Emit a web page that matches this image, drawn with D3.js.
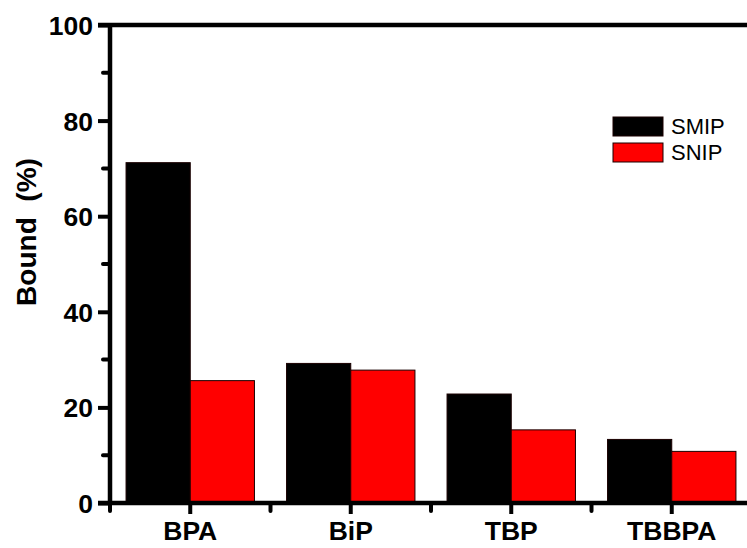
<!DOCTYPE html>
<html>
<head>
<meta charset="utf-8">
<script src="https://cdn.jsdelivr.net/npm/d3@7"></script>
<style>
  html, body { margin: 0; padding: 0; background: #fff; }
  svg { display: block; }
</style>
</head>
<body>
<svg id="chart" width="747" height="548"></svg>
<script>
// Binding percentages of each compound on the two polymer types
const categories = ["BPA", "BiP", "TBP", "TBBPA"];
const seriesNames = ["SMIP", "SNIP"];
const smipValues = [71.2, 29.2, 22.8, 13.3];
const snipValues = [25.6, 27.8, 15.3, 10.8];
const yTicks = [0, 20, 40, 60, 80, 100];
const yMinorTicks = [10, 30, 50, 70, 90];
const seriesColors = ["#000000", "#ff0000"];

(function draw() {
  const svg = d3.select("#chart");
  const font = "Arial, 'Liberation Sans', sans-serif";

  const plotLeft = 110, plotRight = 752, plotTop = 25, plotBottom = 503;

  const x = d3.scaleBand().domain(categories).range([plotLeft, plotRight]).paddingInner(0).paddingOuter(0);
  const xInner = d3.scaleBand().domain(seriesNames).range([0, x.bandwidth()]).paddingInner(0).paddingOuter(0.25);
  const y = d3.scaleLinear().domain([0, 100]).range([plotBottom, plotTop]);

  const rows = categories.map((c, i) => ({ cat: c, vals: [smipValues[i], snipValues[i]] }));

  // Bars
  const groups = svg.append("g").selectAll("g").data(rows).join("g")
    .attr("transform", d => `translate(${x(d.cat)},0)`);
  groups.selectAll("rect").data(d => d.vals.map((v, j) => ({ v, s: seriesNames[j], j })))
    .join("rect")
    .attr("x", d => xInner(d.s))
    .attr("width", xInner.bandwidth())
    .attr("y", d => y(d.v))
    .attr("height", d => y(0) - y(d.v))
    .attr("fill", d => seriesColors[d.j])
    .attr("stroke", "#1a0000")
    .attr("stroke-width", 1);

  // Y axis
  const yAxis = svg.append("g").attr("transform", `translate(${plotLeft},0)`)
    .call(d3.axisLeft(y).tickValues(yTicks).tickSize(12).tickPadding(5).tickFormat(d3.format("d")));
  yAxis.select(".domain").remove();
  yAxis.selectAll(".tick line").attr("stroke", "#000").attr("stroke-width", 4);
  yAxis.selectAll(".tick text").attr("font-family", font).attr("font-weight", "bold")
    .attr("font-size", 26.5).attr("fill", "#000").attr("dy", "0.36em");
  svg.append("g").selectAll("line").data(yMinorTicks).join("line")
    .attr("x1", plotLeft - 7).attr("x2", plotLeft).attr("y1", d => y(d)).attr("y2", d => y(d))
    .attr("stroke", "#000").attr("stroke-width", 4).attr("stroke-linecap", "round");

  // X axis
  const xAxis = svg.append("g").attr("transform", `translate(0,${plotBottom})`)
    .call(d3.axisBottom(x).tickSize(11).tickPadding(7));
  xAxis.select(".domain").remove();
  xAxis.selectAll(".tick line").attr("stroke", "#000").attr("stroke-width", 4);
  xAxis.selectAll(".tick text").attr("font-family", font).attr("font-weight", "bold")
    .attr("font-size", 26.5).attr("fill", "#000");
  const xMinor = categories.map(c => x(c));
  svg.append("g").selectAll("line").data(xMinor).join("line")
    .attr("x1", d => d).attr("x2", d => d).attr("y1", plotBottom).attr("y2", plotBottom + 8)
    .attr("stroke", "#000").attr("stroke-width", 4).attr("stroke-linecap", "round");

  // Frame lines
  svg.append("line").attr("x1", plotLeft).attr("x2", plotLeft).attr("y1", plotTop - 2).attr("y2", plotBottom + 2)
    .attr("stroke", "#000").attr("stroke-width", 4.5);
  svg.append("line").attr("x1", plotLeft - 12).attr("x2", 747).attr("y1", plotTop).attr("y2", plotTop)
    .attr("stroke", "#000").attr("stroke-width", 4.5);
  svg.append("line").attr("x1", plotLeft - 12).attr("x2", 747).attr("y1", plotBottom).attr("y2", plotBottom)
    .attr("stroke", "#000").attr("stroke-width", 4.5);

  // Y axis title
  svg.append("text").attr("transform", `translate(36,232) rotate(-90)`)
    .attr("text-anchor", "middle").attr("font-family", font).attr("font-weight", "bold")
    .attr("font-size", 28).attr("fill", "#000").attr("xml:space", "preserve").text("Bound  (%)");

  // Legend
  const legend = svg.append("g").attr("transform", "translate(613,117)");
  const li = legend.selectAll("g").data(seriesNames).join("g")
    .attr("transform", (d, i) => `translate(0,${i * 26})`);
  li.append("rect").attr("width", 50).attr("height", 19)
    .attr("fill", (d, i) => seriesColors[i]).attr("stroke", "#1a0000").attr("stroke-width", 1);
  li.append("text").attr("x", 58).attr("y", 17).attr("font-family", font)
    .attr("font-size", 22).attr("fill", "#000").text(d => d);
})();
</script>
</body>
</html>
